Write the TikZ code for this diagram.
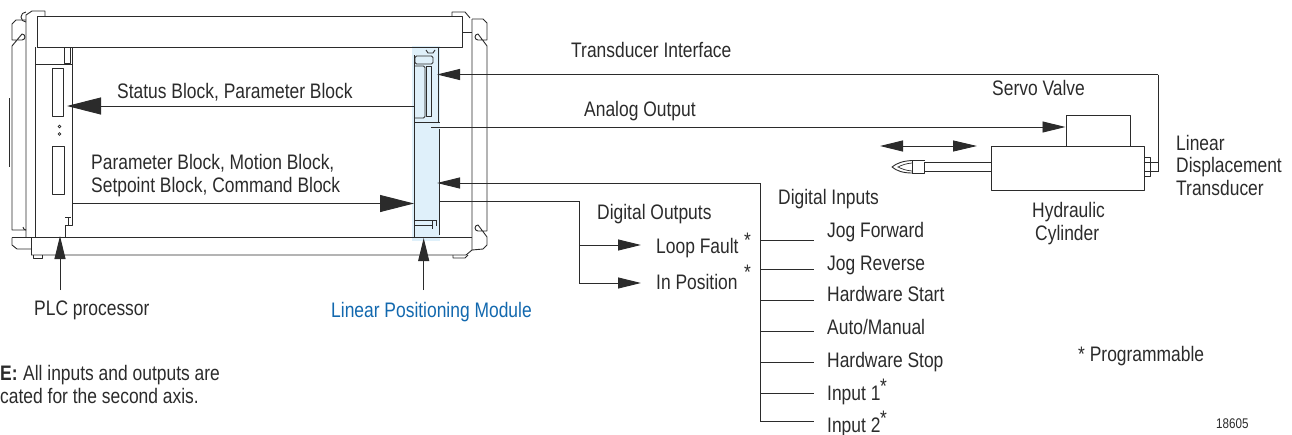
\documentclass[tikz,border=0pt]{standalone}
\usepackage{fontspec}
\setmainfont{Liberation Sans}[FakeStretch=0.83]
\usetikzlibrary{arrows.meta}
\definecolor{ink}{HTML}{2B2B2B}
\definecolor{modblue}{HTML}{DFF0FA}
\definecolor{labelblue}{HTML}{1268AE}
\tikzset{
  x=1pt,y=-1pt,
  part/.style={draw=ink,line width=0.9pt,line join=round},
  thin part/.style={draw=ink,line width=0.7pt},
  wire/.style={draw=ink,line width=0.95pt},
  bighead/.style={wire,-{Triangle[length=34pt,width=17pt,color=ink]}},
  head/.style={wire,-{Triangle[length=23pt,width=11pt,color=ink]}},
  bothhead/.style={wire,{Triangle[length=23pt,width=11pt,color=ink]}-{Triangle[length=24pt,width=11pt,color=ink]}},
  lab/.style={anchor=base west,inner sep=0pt,font=\fontsize{21}{24}\selectfont,text=ink},
  box/.style={part,inner sep=0pt,anchor=north west,fill=white}
}
\begin{document}
\begin{tikzpicture}
\useasboundingbox (0,0) rectangle (1292,434);
% module highlight
\fill[modblue] (412,46) rectangle (440,241);
% chassis top and bottom bars
\draw[part] (37,47) -- (37,16) -- (462,16) -- (462,47) -- cycle;
\draw[part] (12,237.5) -- (472,237.5);
\draw[part] (31,255) -- (466,255) -- (472,250) -- (472,19);
% left flange
\draw[part] (26,237) -- (26,15) -- (32,11) -- (45,11) -- (45,16);
\draw[part] (35,237) -- (35,47);
\draw[part] (26,20) -- (16,20) -- (12,24) -- (12,40) -- (22,40) arc[start angle=90,end angle=-90,radius=3] -- (12,46) -- (12,230) -- (26,230);
\draw[part] (26,22) arc[start angle=90,end angle=270,radius=5];
\draw[part] (26,230) arc[start angle=90,end angle=180,radius=3];
\draw[part] (12,237.5) -- (12,245) -- (17,249) -- (31,249);
\draw[part] (31,237.5) -- (31,255);
\draw[part] (33,255) -- (33,258) -- (42,258) -- (42,255);
\draw[thin part] (9.5,98) -- (9.5,167);
% right flange
\draw[part] (462,32) -- (472,32);
\draw[part] (452,16) -- (452,12) -- (465,12) -- (470,18);
\draw[part] (472,19) -- (483,19) -- (487,23) -- (487,40) -- (478,40) arc[start angle=90,end angle=270,radius=3] -- (487,46) -- (487,231) -- (478,231) arc[start angle=90,end angle=270,radius=3] -- (487,237) -- (487,245) -- (483,249) -- (472,250);
\draw[part] (453,255) -- (453,258) -- (465,258) -- (468,255);
% PLC processor
\draw[part] (37,47) -- (72,47) -- (72,225) -- (65,225) -- (65,237);
\draw[part] (35,64) -- (72,64);
\draw[part] (64,47) -- (64,63) -- (70,63) -- (70,47);
\draw[part] (65,217) -- (71,217);
\draw[part] (68,217) -- (68,225);
\node[box,minimum width=11.5pt,minimum height=48.5pt] (slotA) at (51.5,67.5) {};
\node[box,minimum width=12pt,minimum height=48pt] (slotB) at (52,146) {};
\draw[thin part] (59.5,126.5) circle[radius=1.4] (59.5,134) circle[radius=1.4];
% positioning module
\draw[part] (72,47) -- (412,47);
\draw[part] (414,55) -- (414,237);
\draw[part] (438,47) -- (438,122);
\draw[part] (414,122) -- (440,122);
\draw[part] (439,129) -- (439,235);
\draw[part,rounded corners=1.5pt] (415,64) -- (415,56) -- (433,56) -- (433,64) -- cycle;
\draw[part,rounded corners=1.5pt] (415,66) -- (425,66) -- (425,118) -- (415,118);
\draw[part] (426,66) -- (431,66) -- (431,116) -- (426,116) -- cycle;
\draw[part] (426,50) -- (428,53) -- (433,53) -- (435,50);
\draw[part] (414,220) -- (437,220);
\draw[part] (414,225) -- (432,225);
\draw[part] (432,220) -- (432,229);
\draw[part] (436,220) -- (436,226);
% cylinder
\node[box,minimum width=64pt,minimum height=31pt] (valve) at (1065.5,114.5) {};
\node[box,minimum width=153pt,minimum height=44pt] (cyl) at (990.5,145.5) {};
\node[box,minimum width=6pt,minimum height=19pt] (fit) at (1143.5,156.5) {};
\draw[part] (990.5,162.3) -- (924.5,162.3) -- (924.5,173) -- (912,173) (924.5,160.5) -- (912,160.5) -- (912,173);
\draw[part] (990.5,171.3) -- (924.5,171.3);
\draw[part] (912,160.5) .. controls (903,161) and (897,163) .. (892,167) .. controls (897,171) and (903,173) .. (912,173);
\draw[thin part] (912,163) .. controls (906,163.5) and (902,165) .. (898,167) .. controls (902,169) and (906,170.5) .. (912,171);
% connector end points
\coordinate (procIn) at (67,106);
\coordinate (modOutSt) at (414,106);
\coordinate (procOut) at (72,203.5);
\coordinate (modInCmd) at (414,203.5);
\coordinate (tiIn) at (437,74.5);
\coordinate (tiC) at (1158,74.5);
\coordinate (tiE) at (1158,171);
\coordinate (anOut) at (431,127);
\coordinate (diIn) at (437,183);
\coordinate (diC) at (760,183);
\coordinate (diE) at (760,421.5);
\coordinate (doOut) at (439,201);
\coordinate (doC) at (579,201);
\coordinate (doE) at (579,283);
\coordinate (doM) at (579,245);
\coordinate (lf) at (641,245);
\coordinate (ip) at (641,283);
\coordinate (moveL) at (880,146);
\coordinate (moveR) at (977,146);
\coordinate (plcTip) at (60,236);
\coordinate (plcEnd) at (60,290);
\coordinate (lpmTip) at (423.7,238);
\coordinate (lpmEnd) at (423.7,290);
\coordinate (tiT) at (1158,162.7);
\coordinate (fitB) at (1143.5,171);
\coordinate (cylT) at (1143.5,162.7);
% connectors
\draw[bighead] (modOutSt) -- (procIn);
\draw[bighead] (procOut) -- (modInCmd);
\draw[head] (tiC) -- (tiIn);
\draw[wire] (tiC) -- (tiE) -- (fitB);
\draw[wire] (cylT) -- (tiT);
\draw[head] (anOut) -- (anOut -| valve.west);
\draw[head] (diC) -- (diIn);
\draw[wire] (diC) -- (diE);
\draw[wire] (doOut) -- (doC) -- (doE);
\draw[head] (doM) -- (lf);
\draw[head] (doE) -- (ip);
\draw[bothhead] (moveL) -- (moveR);
\draw[head] (plcEnd) -- (plcTip);
\draw[head] (lpmEnd) -- (lpmTip);
\foreach \n/\yy in {a/240,b/269.5,c/300,d/331.5,e/362.5,f/393.5,g/421.5}{
  \coordinate (in\n) at (760,\yy);
  \coordinate (inr\n) at (814,\yy);
  \draw[wire] (in\n) -- (inr\n);
}
% labels
\node[lab] (t1) at (571,57) {Transducer Interface};
\node[lab] (t2) at (992,95) {Servo Valve};
\node[lab] (t3) at (584,116) {Analog Output};
\node[lab] (t4) at (117,98) {Status Block, Parameter Block};
\node[lab] (t5) at (91,169) {Parameter Block, Motion Block,};
\node[lab] (t6) at (91,192) {Setpoint Block, Command Block};
\node[lab] (t7) at (597,219) {Digital Outputs};
\node[lab] (t8) at (778,204) {Digital Inputs};
\node[lab] (t9) at (656,253) {Loop Fault};
\node[lab] (t10) at (744,247) {*};
\node[lab] (t11) at (656,289) {In Position};
\node[lab] (t12) at (744,279) {*};
\node[lab] (t13) at (827,237) {Jog Forward};
\node[lab] (t14) at (827,270) {Jog Reverse};
\node[lab] (t15) at (827,301) {Hardware Start};
\node[lab] (t16) at (827,334) {Auto/Manual};
\node[lab] (t17) at (827,367) {Hardware Stop};
\node[lab] (t18) at (827,400) {Input 1};
\node[lab] (t19) at (880,393) {*};
\node[lab] (t20) at (827,432) {Input 2};
\node[lab] (t21) at (880,425) {*};
\node[lab] (t22) at (1176,150) {Linear};
\node[lab] (t23) at (1176,172) {Displacement};
\node[lab] (t24) at (1176,195) {Transducer};
\node[lab] (t25) at (1032,217) {Hydraulic};
\node[lab] (t26) at (1035,240) {Cylinder};
\node[lab] (t27) at (34,315) {PLC processor};
\node[lab,text=labelblue] (t28) at (331,317) {Linear Positioning Module};
\node[lab] (t29) at (0,380) {\textbf{E:}};
\node[lab] (t30) at (23,380) {All inputs and outputs are};
\node[lab] (t31) at (0,403) {cated for the second axis.};
\node[lab] (t32) at (1078,361) {* Programmable};
\node[lab,font=\fontsize{14}{16}\selectfont] (t33) at (1216,428) {18605};
\end{tikzpicture}
\end{document}
